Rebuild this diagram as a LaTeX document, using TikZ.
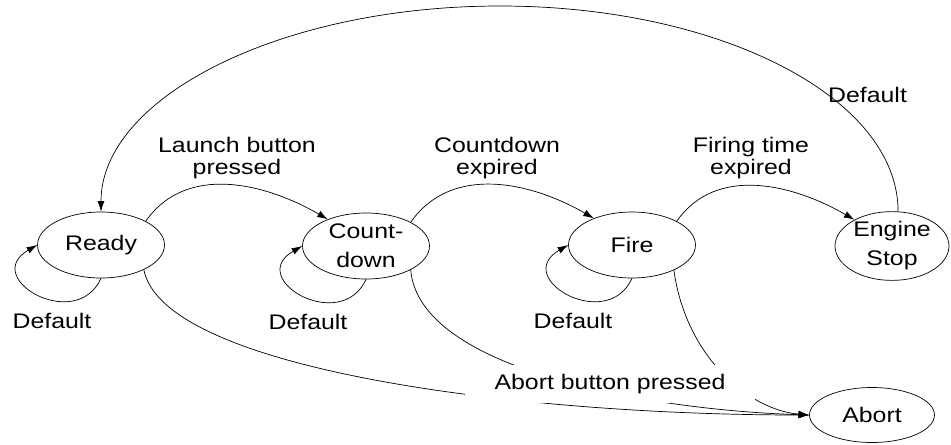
\documentclass[tikz,border=0pt]{standalone}
\usepackage{fontspec}
\setmainfont{Liberation Sans}[FakeStretch=1.18]
\usetikzlibrary{%
  arrows.meta,%
  shapes.geometric% wg. ellipse
}
\newcommand{\statefont}{\fontsize{12}{16.5}\selectfont}
\newcommand{\labelfont}{\fontsize{12}{12.5}\selectfont}

\begin{document}
\begin{tikzpicture}[
    x=0.02cm, y=-0.02cm,
    state/.style={ellipse, draw, thin, inner sep=0pt, minimum width=2.54cm,
      minimum height=1.32cm, align=center, font=\statefont},
    lbl/.style={align=center, inner sep=1pt, font=\labelfont},
    tip/.style={-{Latex[length=6pt,width=4pt]}, thin}
  ]
  \useasboundingbox (0,0) rectangle (951,444);

  % draw states
  \node[state] at (101,245) (ready) {Ready};
  \node[state] at (366,246) (count) {Count-\\down};
  \node[state] at (632,245) (fire) {Fire};
  \node[state, minimum width=2.28cm] at (892,246) (stop) {Engine\\Stop};
  \node[state, minimum width=2.5cm, minimum height=1.1cm] at (872,415) (abort) {Abort};

  % draw transitions
  \foreach \a/\b in {ready/count, count/fire, fire/stop}{
    \draw[tip] (\a.28) to[out=55, in=150] (\b.145);}
  \foreach \s/\dx in {ready/-49, count/-58, fire/-59}{
    \draw[tip] (\s.south) .. controls +(-25,55) and +(-57,33) .. (\s.west);
    \node[lbl] at ([shift={(\dx,76)}]\s) (\s-default) {Default};}

  % back to ready
  \coordinate (apex) at (500,6);
  \draw[tip] (stop.80) .. controls +(0,-114) and +(220,0) .. (apex)
    .. controls +(-220,0) and +(0,-114) .. (ready.north);

  % abort
  \draw[tip] (ready.-30) .. controls +(20,100) and +(-290,0) .. (abort.west);
  \draw[tip] (count.-28) .. controls +(8,100) and +(-160,-5) .. (abort.west);
  \draw[tip] (fire.-31) .. controls +(12,87) and +(-60,-5) .. (abort.west);

  % draw labels
  \node[lbl] at (237,158) (launch) {Launch button\\pressed};
  \node[lbl] at (497,158) (expired) {Countdown\\expired};
  \node[lbl] at (751,158) (firing) {Firing time\\expired};
  \node[lbl, anchor=west] at (826,95) (stop-default) {Default};
  \node[lbl, fill=white, inner xsep=17pt, inner ysep=5.5pt] at (610,384) (abortlbl)
    {Abort button pressed};
\end{tikzpicture}
\end{document}
